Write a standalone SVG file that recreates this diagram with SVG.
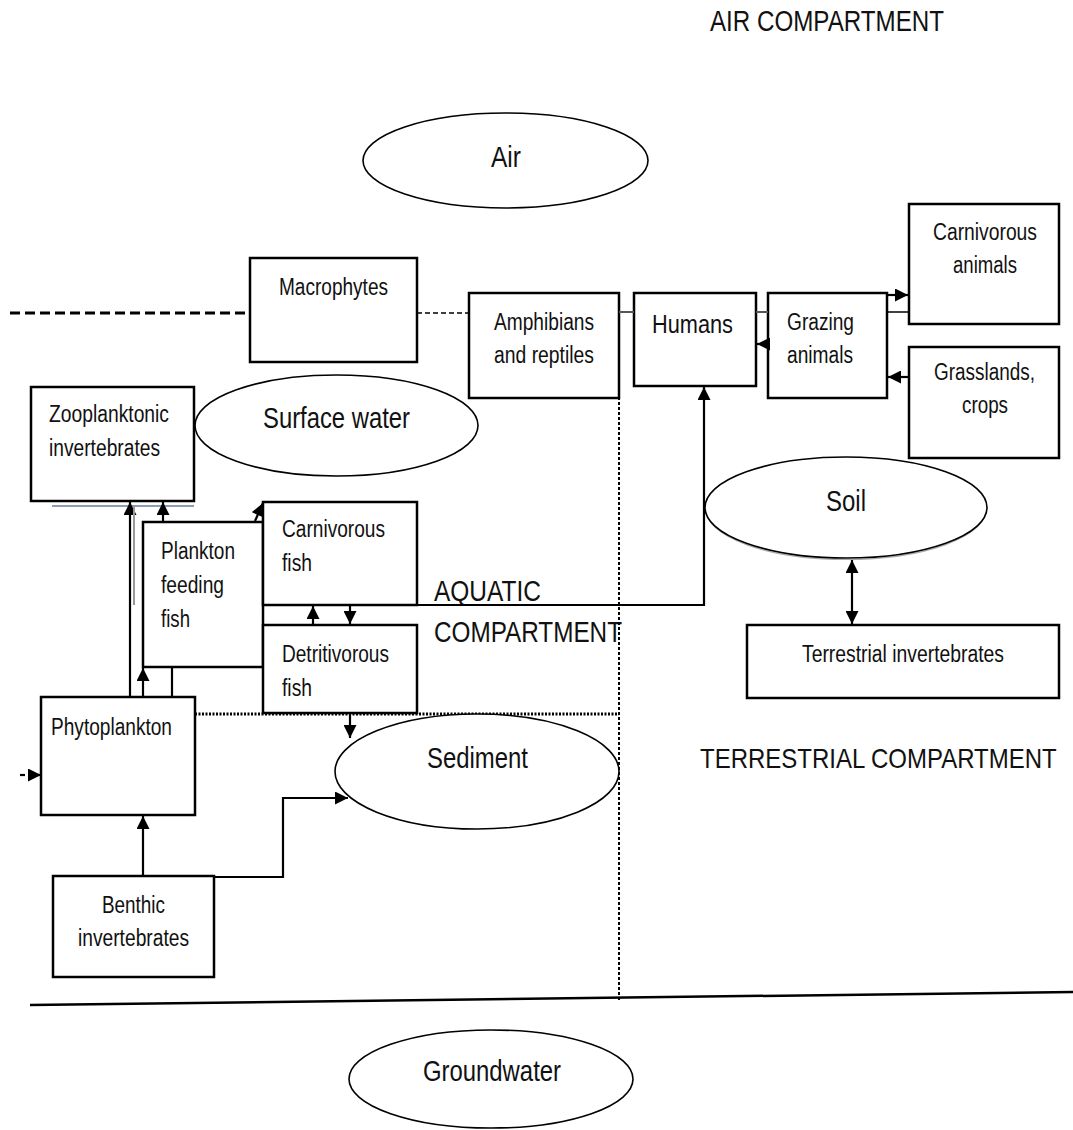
<svg xmlns="http://www.w3.org/2000/svg" width="1073" height="1130" viewBox="0 0 1073 1130">
  <defs>
    <marker id="arrow" viewBox="0 0 10 10" refX="10" refY="5" markerWidth="14" markerHeight="13" markerUnits="userSpaceOnUse" orient="auto-start-reverse">
      <path d="M0,0 L10,5 L0,10 z" fill="#000"/>
    </marker>
    <style>
      .box { fill: #fff; stroke: #000; stroke-width: 2.5; }
      .ell { fill: #fff; stroke: #000; stroke-width: 1.6; }
      .lbl { font-family: "Liberation Sans Narrow", "Liberation Sans", Arial, sans-serif; font-size: 23px; fill: #111; }
      .big { font-family: "Liberation Sans Narrow", "Liberation Sans", Arial, sans-serif; font-size: 29px; fill: #111; }
      .conn { fill: none; stroke: #000; stroke-width: 2.2; }
      .thin { fill: none; stroke: #000; stroke-width: 1.5; }
      .dot { fill: none; stroke: #000; stroke-width: 3; stroke-dasharray: 2 1.5; }
      .vdot { fill: none; stroke: #000; stroke-width: 2; stroke-dasharray: 3 2; }
    </style>
  </defs>

  <rect width="1073" height="1130" fill="#fff"/>

  <!-- compartment labels -->
  <text class="big" x="710" y="31" textLength="234" lengthAdjust="spacingAndGlyphs">AIR COMPARTMENT</text>
  <text class="big" x="434" y="601" textLength="107" lengthAdjust="spacingAndGlyphs">AQUATIC</text>
  <text class="big" x="434" y="642" textLength="188" lengthAdjust="spacingAndGlyphs">COMPARTMENT</text>
  <text class="big" transform="translate(700 768) scale(1 1.18)" x="0" y="0" style="font-size:24px">TERRESTRIAL COMPARTMENT</text>

  <!-- compartment boundaries -->
  <g id="boundaries">
    <line x1="10" y1="313" x2="250" y2="313" stroke="#000" stroke-width="3" stroke-dasharray="10 5"/>
    <line x1="195" y1="714" x2="619" y2="714" class="dot"/>
    <line x1="619" y1="312" x2="619" y2="1000" class="vdot"/>
    <line x1="30" y1="1005" x2="1073" y2="992" stroke="#000" stroke-width="2.5"/>
  </g>

  <!-- media -->
  <g id="air">
    <ellipse class="ell" cx="505.5" cy="160.5" rx="142.5" ry="47.5"/>
    <text class="big" x="491" y="167" textLength="30" lengthAdjust="spacingAndGlyphs">Air</text>
  </g>
  <g id="surface-water">
    <ellipse class="ell" cx="336.5" cy="425.5" rx="141.5" ry="50.5"/>
    <text class="big" x="263" y="428" textLength="147" lengthAdjust="spacingAndGlyphs">Surface water</text>
  </g>
  <g id="soil">
    <ellipse cx="846" cy="509.5" rx="140" ry="50" fill="none" stroke="#aaa" stroke-width="1.2"/>
    <ellipse class="ell" cx="846" cy="507.5" rx="141" ry="50.5"/>
    <text class="big" x="826" y="511" textLength="40" lengthAdjust="spacingAndGlyphs">Soil</text>
  </g>
  <g id="sediment">
    <ellipse class="ell" cx="477" cy="771.5" rx="142" ry="57.5"/>
    <text class="big" x="427" y="768" textLength="101" lengthAdjust="spacingAndGlyphs">Sediment</text>
  </g>
  <g id="groundwater">
    <ellipse class="ell" cx="491" cy="1079" rx="142" ry="49"/>
    <text class="big" x="423" y="1081" textLength="138" lengthAdjust="spacingAndGlyphs">Groundwater</text>
  </g>

  <!-- organisms -->
  <g id="macrophytes">
    <rect class="box" x="250" y="258" width="167" height="104"/>
    <text class="lbl" x="279" y="295" textLength="109" lengthAdjust="spacingAndGlyphs">Macrophytes</text>
  </g>
  <g id="amphibians">
    <rect class="box" x="469" y="293" width="150" height="105"/>
    <text class="lbl" x="494" y="330" textLength="100" lengthAdjust="spacingAndGlyphs">Amphibians</text>
    <text class="lbl" x="494" y="363" textLength="100" lengthAdjust="spacingAndGlyphs">and reptiles</text>
  </g>
  <g id="humans">
    <rect class="box" x="634" y="293" width="122" height="93"/>
    <text class="lbl" x="652" y="333" textLength="81" lengthAdjust="spacingAndGlyphs" style="font-size:25px">Humans</text>
  </g>
  <g id="grazing-animals">
    <rect class="box" x="768" y="293" width="119" height="105"/>
    <text class="lbl" x="787" y="330" textLength="67" lengthAdjust="spacingAndGlyphs">Grazing</text>
    <text class="lbl" x="787" y="363" textLength="66" lengthAdjust="spacingAndGlyphs">animals</text>
  </g>
  <g id="carnivorous-animals">
    <rect class="box" x="909" y="204" width="150" height="120"/>
    <text class="lbl" x="933" y="240" textLength="104" lengthAdjust="spacingAndGlyphs">Carnivorous</text>
    <text class="lbl" x="953" y="273" textLength="64" lengthAdjust="spacingAndGlyphs">animals</text>
  </g>
  <g id="grasslands">
    <rect class="box" x="909" y="347" width="150" height="111"/>
    <text class="lbl" x="934" y="380" textLength="101" lengthAdjust="spacingAndGlyphs">Grasslands,</text>
    <text class="lbl" x="962" y="413" textLength="46" lengthAdjust="spacingAndGlyphs">crops</text>
  </g>
  <g id="terrestrial-invertebrates">
    <rect class="box" x="747" y="625" width="312" height="73"/>
    <text class="lbl" x="802" y="662" textLength="202" lengthAdjust="spacingAndGlyphs">Terrestrial invertebrates</text>
  </g>
  <g id="zooplankton">
    <rect class="box" x="31" y="387" width="163" height="114"/>
    <line x1="52" y1="506" x2="194" y2="506" stroke="#8d9db8" stroke-width="2"/>
    <text class="lbl" x="49" y="422" textLength="120" lengthAdjust="spacingAndGlyphs">Zooplanktonic</text>
    <text class="lbl" x="49" y="456" textLength="111" lengthAdjust="spacingAndGlyphs">invertebrates</text>
  </g>
  <g id="plankton-feeding-fish">
    <rect class="box" x="143" y="522" width="120" height="145"/>
    <text class="lbl" x="161" y="559" textLength="74" lengthAdjust="spacingAndGlyphs">Plankton</text>
    <text class="lbl" x="161" y="593" textLength="63" lengthAdjust="spacingAndGlyphs">feeding</text>
    <text class="lbl" x="161" y="627" textLength="29" lengthAdjust="spacingAndGlyphs">fish</text>
  </g>
  <g id="carnivorous-fish">
    <rect class="box" x="263" y="502" width="154" height="103"/>
    <text class="lbl" x="282" y="537" textLength="103" lengthAdjust="spacingAndGlyphs">Carnivorous</text>
    <text class="lbl" x="282" y="571" textLength="30" lengthAdjust="spacingAndGlyphs">fish</text>
  </g>
  <g id="detritivorous-fish">
    <rect class="box" x="263" y="625" width="154" height="88"/>
    <text class="lbl" x="282" y="662" textLength="107" lengthAdjust="spacingAndGlyphs">Detritivorous</text>
    <text class="lbl" x="282" y="696" textLength="30" lengthAdjust="spacingAndGlyphs">fish</text>
  </g>
  <g id="phytoplankton">
    <rect class="box" x="41" y="697" width="154" height="118"/>
    <text class="lbl" x="51" y="735" textLength="121" lengthAdjust="spacingAndGlyphs">Phytoplankton</text>
  </g>
  <g id="benthic-invertebrates">
    <rect class="box" x="53" y="876" width="161" height="101"/>
    <text class="lbl" x="102" y="913" textLength="63" lengthAdjust="spacingAndGlyphs">Benthic</text>
    <text class="lbl" x="78" y="946" textLength="111" lengthAdjust="spacingAndGlyphs">invertebrates</text>
  </g>

  <!-- connectors -->
  <g id="connectors">
    <line x1="417" y1="313" x2="469" y2="313" stroke="#000" stroke-width="1.5" stroke-dasharray="5 3"/>
    <line x1="619" y1="312" x2="634" y2="312" stroke="#555" stroke-width="2"/>
    <line x1="756" y1="312" x2="768" y2="312" stroke="#555" stroke-width="2"/>
    <line x1="887" y1="295" x2="908" y2="295" class="conn" marker-end="url(#arrow)"/>
    <line x1="887" y1="312" x2="908" y2="312" class="thin"/>
    <line x1="909" y1="377" x2="888" y2="377" class="conn" marker-end="url(#arrow)"/>
    <line x1="768" y1="344" x2="757" y2="344" class="conn" marker-end="url(#arrow)"/>
    <polyline points="263,605 704,605 704,387" class="conn" marker-end="url(#arrow)"/>
    <line x1="852" y1="560" x2="852" y2="624" class="conn" stroke-width="3" marker-start="url(#arrow)" marker-end="url(#arrow)"/>
    <line x1="130" y1="697" x2="130" y2="502" class="conn" marker-end="url(#arrow)"/>
    <line x1="134" y1="505" x2="134" y2="605" stroke="#999" stroke-width="2"/>
    <line x1="163" y1="522" x2="163" y2="502" class="conn" marker-end="url(#arrow)"/>
    <line x1="255" y1="521" x2="263" y2="503" class="conn" marker-end="url(#arrow)"/>
    <line x1="143" y1="697" x2="143" y2="668" class="conn" marker-end="url(#arrow)"/>
    <line x1="172" y1="667" x2="172" y2="697" class="conn"/>
    <line x1="313" y1="625" x2="313" y2="606" class="conn" marker-end="url(#arrow)"/>
    <line x1="350" y1="605" x2="350" y2="624" class="conn" marker-end="url(#arrow)"/>
    <line x1="350" y1="714" x2="350" y2="738" class="conn" marker-end="url(#arrow)"/>
    <line x1="20" y1="775" x2="25" y2="775" class="conn"/>
    <line x1="28" y1="775" x2="41" y2="775" class="conn" marker-end="url(#arrow)"/>
    <line x1="143" y1="876" x2="143" y2="816" class="conn" marker-end="url(#arrow)"/>
    <polyline points="214,877 283,877 283,798 348,798" class="conn" marker-end="url(#arrow)"/>
  </g>
</svg>
